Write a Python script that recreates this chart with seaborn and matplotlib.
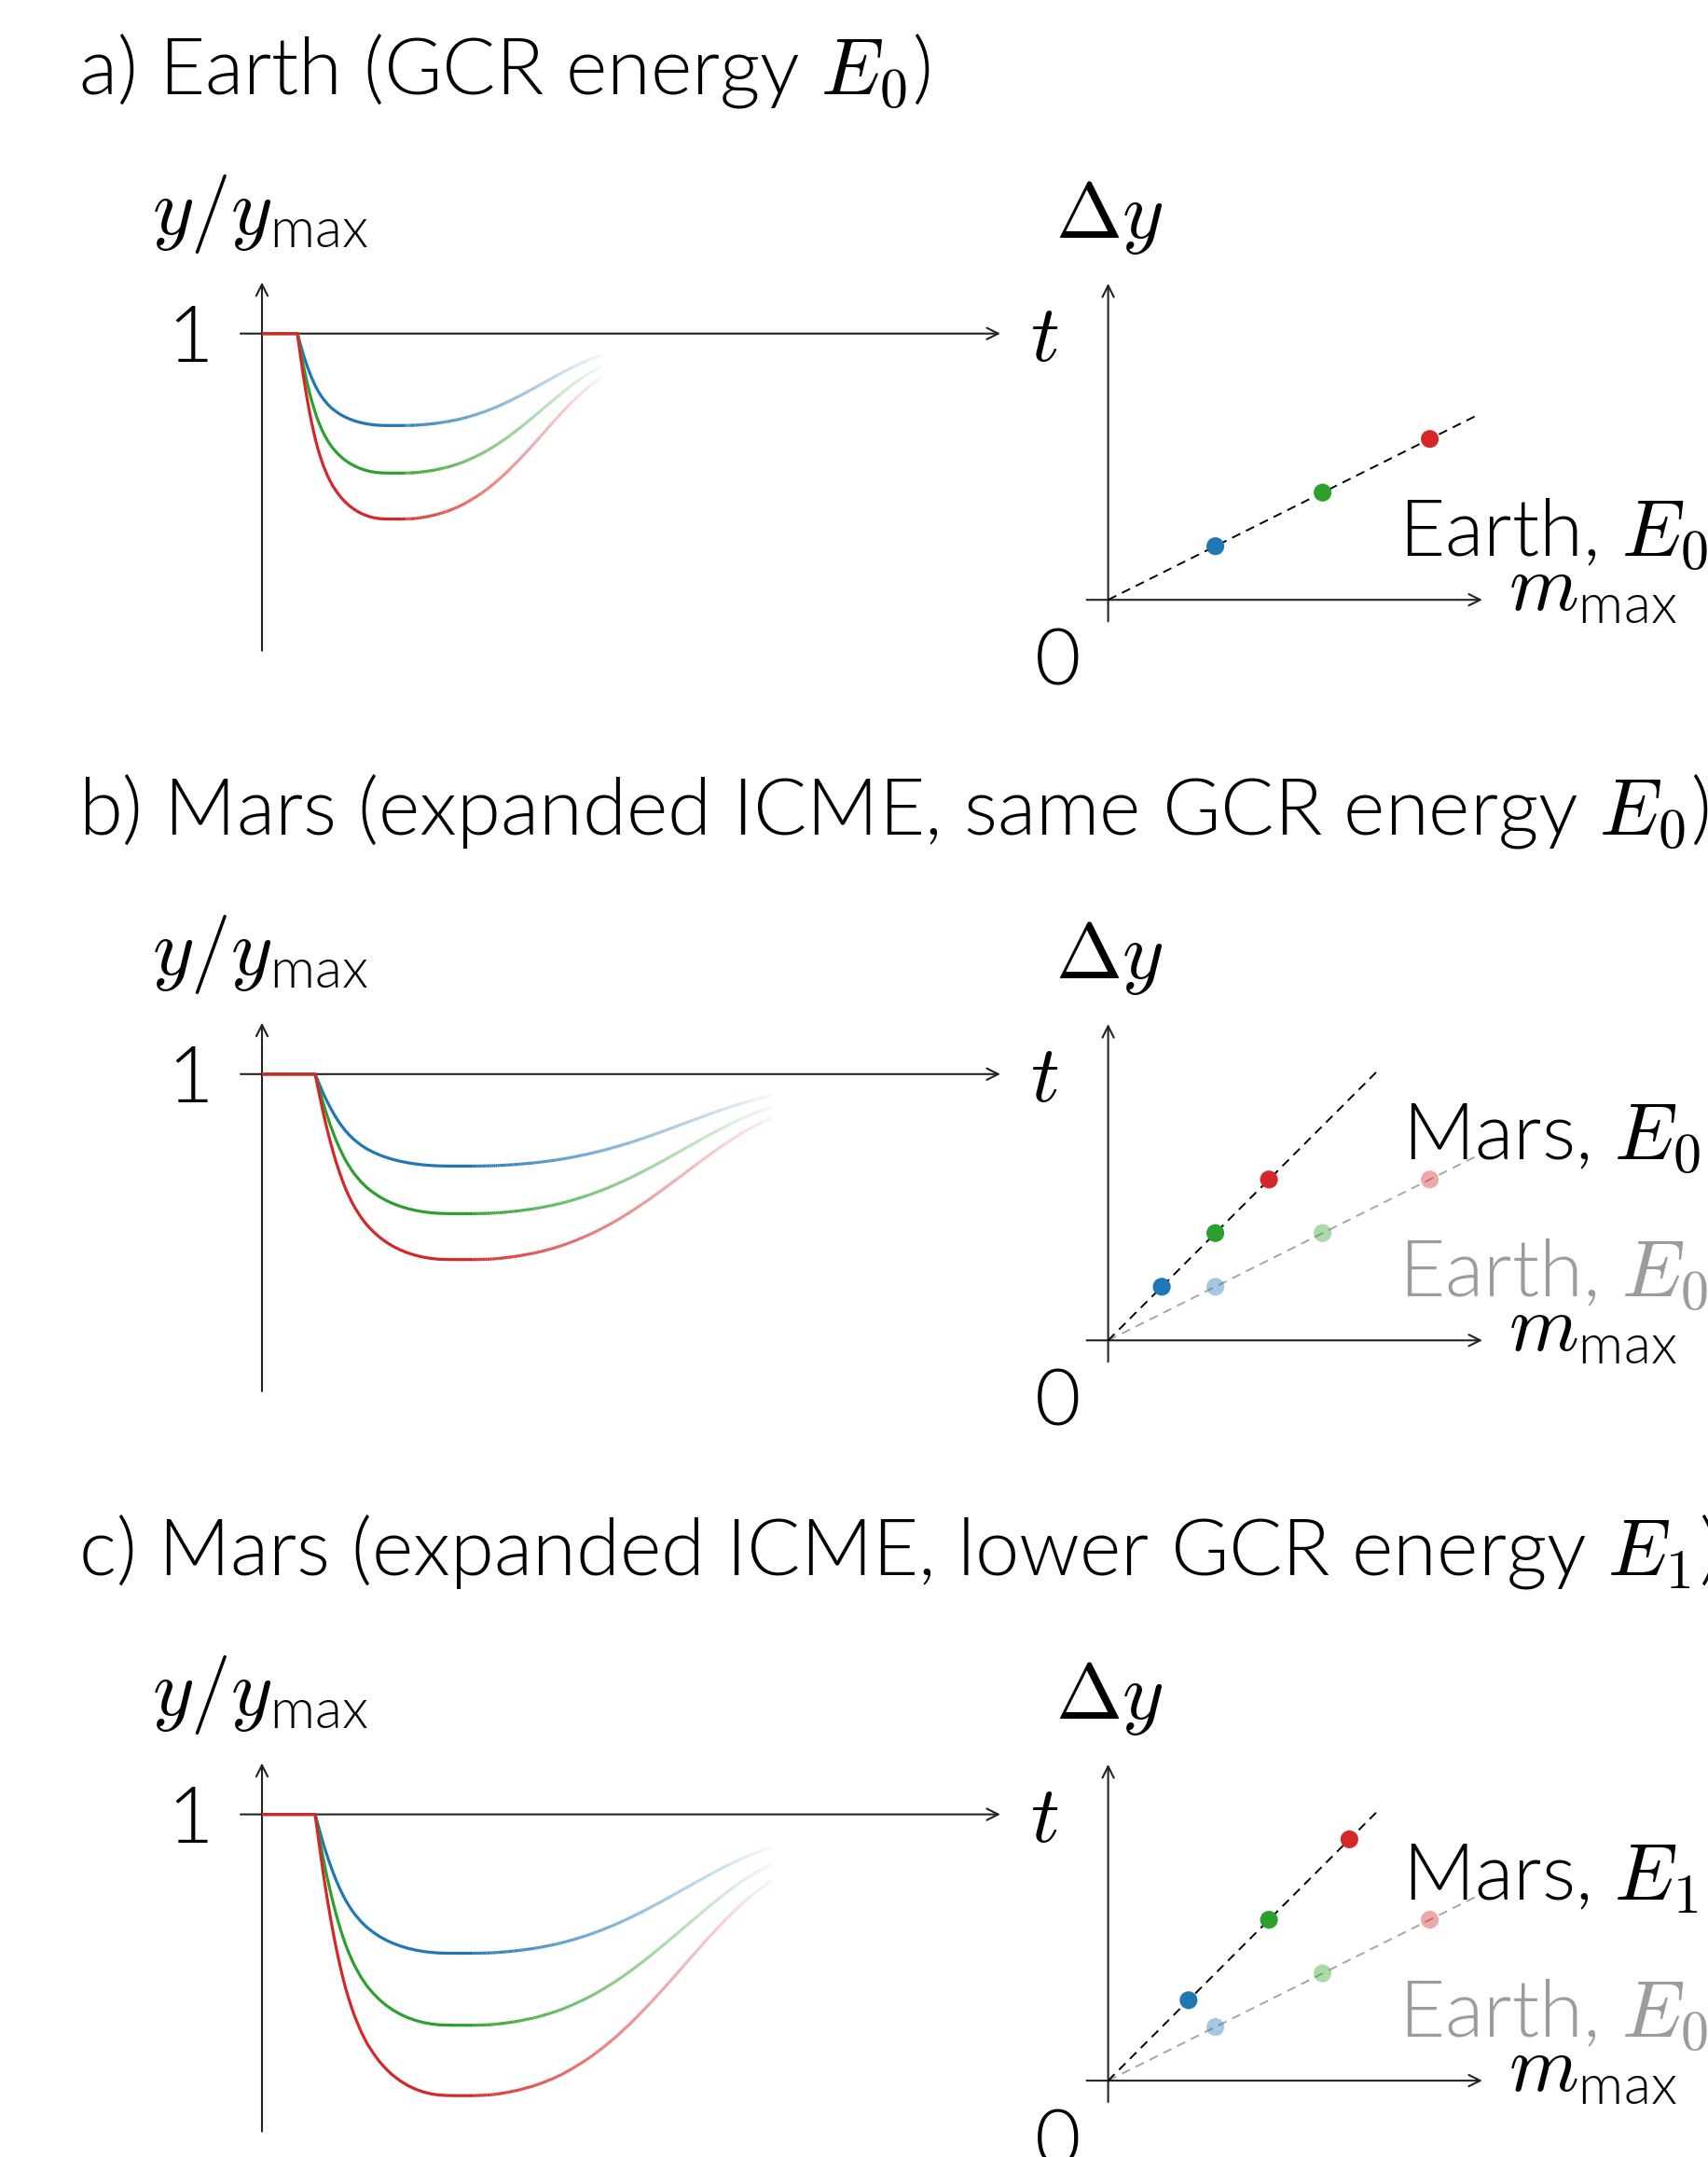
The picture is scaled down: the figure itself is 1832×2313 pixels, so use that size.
import os
import numpy as np
import matplotlib
matplotlib.use("Agg")
import matplotlib.pyplot as plt
import seaborn as sns
from matplotlib.collections import LineCollection
from matplotlib.colors import to_rgba
from matplotlib import font_manager as fm

# ---------------- data ----------------
# normalised Forbush-decrease profile in panel-a time units: first point t=0 is the
# flat part before the onset (t=0.48); SHAPE is the fractional depth of the decrease
PROFILE_T = [0.0, 0.480, 0.500, 0.525, 0.559, 0.590, 0.615, 0.645, 0.671, 0.700,
             0.730, 0.755, 0.783, 0.810, 0.839, 0.895, 0.951, 1.010, 1.063,
             1.120, 1.176, 1.246, 1.316, 1.386, 1.456, 1.530, 1.597, 1.670,
             1.737, 1.820, 1.905, 1.990, 2.073, 2.180, 2.298, 2.440, 2.522,
             2.635, 2.720, 2.810, 2.916, 3.000, 3.083, 3.196, 3.330, 3.477,
             3.620, 3.757, 3.900, 4.038, 4.180, 4.318, 4.460, 4.599]
PROFILE_SHAPE = [0.0, 0.000, 0.058, 0.130, 0.225, 0.302, 0.360, 0.425, 0.477,
                 0.530, 0.580, 0.618, 0.655, 0.688, 0.720, 0.773, 0.816, 0.852,
                 0.880, 0.905, 0.926, 0.947, 0.964, 0.977, 0.987, 0.994, 0.998,
                 0.9995, 1.000, 1.000, 1.000, 0.999, 0.997, 0.991, 0.982, 0.967,
                 0.956, 0.938, 0.922, 0.902, 0.876, 0.853, 0.828, 0.791, 0.742,
                 0.683, 0.622, 0.561, 0.497, 0.436, 0.376, 0.323, 0.275, 0.236]
FADE_START_T = 1.905

# depths of the three curves (blue, green, red) per panel, in units of y/ymax
DEPTH_A = [0.29, 0.44, 0.585]
DEPTH_B = [0.29, 0.44, 0.585]
DEPTH_C = [0.438, 0.665, 0.887]
TIME_STRETCH = [1.0, 1.5, 1.5]

# Delta y vs m_max
EARTH_E0_M = [1.0, 2.0, 3.0]
EARTH_E0_DY = [0.5, 1.0, 1.5]
MARS_E0_M = [0.5, 1.0, 1.5]
MARS_E0_DY = [0.5, 1.0, 1.5]
MARS_E1_M = [0.75, 1.5, 2.25]
MARS_E1_DY = [0.75, 1.5, 2.25]
EARTH_FIT_M = [0.0, 3.45]
EARTH_FIT_DY = [0.0, 1.725]
MARS_FIT_M = [0.0, 2.5]
MARS_FIT_DY = [0.0, 2.5]

COLORS = ["#1f77b4", "#2ca02c", "#d62728"]

TITLES = ["a) Earth (GCR energy $E_0$)",
          "b) Mars (expanded ICME, same GCR energy $E_0$)",
          "c) Mars (expanded ICME, lower GCR energy $E_1$)"]
MAIN_LABELS = ["Earth, $E_0$", "Mars, $E_0$", "Mars, $E_1$"]

# ---------------- fonts: make sure "Lato" weight 300 is the real Lato-Light ----------------
reg_path = fm.findfont(fm.FontProperties(family="Lato", weight="normal"))
light_path = os.path.join(os.path.dirname(reg_path), "Lato-Light.ttf")
if not os.path.exists(light_path):
    cands = [f.fname for f in fm.fontManager.ttflist
             if os.path.basename(f.fname) == "Lato-Light.ttf"]
    light_path = cands[0] if cands else None
TEXT_WEIGHT = "normal"
if light_path is not None:
    fm.fontManager.ttflist = [
        f for f in fm.fontManager.ttflist
        if not (f.name == "Lato" and f.style == "normal"
                and str(f.weight) in ("300", "light") and f.fname != light_path)]
    if not any(f.fname == light_path for f in fm.fontManager.ttflist):
        fm.fontManager.addfont(light_path)
    fm.fontManager._findfont_cached.cache_clear()
    TEXT_WEIGHT = 300

sns.set_theme(style="white")
plt.rcParams["font.family"] = ["Lato", "DejaVu Sans"]
plt.rcParams["text.color"] = "black"
plt.rcParams["mathtext.fontset"] = "custom"
plt.rcParams["mathtext.rm"] = "cmr10"
plt.rcParams["mathtext.it"] = "cmmi10"
plt.rcParams["mathtext.sf"] = "Lato:weight=300" if TEXT_WEIGHT == 300 else "Lato"
plt.rcParams["axes.unicode_minus"] = False

W, H = 1833, 2313
fig = plt.figure(figsize=(W / 100, H / 100), dpi=100)
fig.patch.set_facecolor("white")

FS = 61.5
FS_TITLE = 61.2
AX_COLOR = "#222222"
DASH = (0, (5, 3.5))


def make_ax(px0, px1, py_top, py_bot, ox, oy, sx, sy):
    ax = fig.add_axes([px0 / W, 1 - py_bot / H, (px1 - px0) / W, (py_bot - py_top) / H])
    ax.set_xlim((px0 - ox) / sx, (px1 - ox) / sx)
    ax.set_ylim((oy - py_bot) / sy, (oy - py_top) / sy)
    ax.set_axis_off()
    return ax


def arrow(ax, start, end):
    ax.annotate("", xy=end, xytext=start,
                arrowprops=dict(arrowstyle="->", color=AX_COLOR, lw=1.5,
                                shrinkA=0, shrinkB=0, mutation_scale=22),
                annotation_clip=False, zorder=1)


def ftext(x, y, s, **kw):
    kw.setdefault("fontsize", FS)
    kw.setdefault("fontweight", TEXT_WEIGHT)
    kw.setdefault("va", "baseline")
    fig.text(x / W, 1 - y / H, s, **kw)


def draw_left(ax, depths, stretch):
    sx_unit = 79.2
    arrow(ax, (0, 0), (0, 1.162))
    arrow(ax, (-23 / sx_unit, 1), (792 / sx_unit, 1))
    t = stretch * np.array(PROFILE_T)
    shape = np.array(PROFILE_SHAPE)
    k = int(np.argmin(np.abs(np.array(PROFILE_T) - FADE_START_T)))
    for i, (d, c) in enumerate(zip(depths, COLORS)):
        y = 1 - d * shape
        sns.lineplot(x=t[:k + 1], y=y[:k + 1], color=c, lw=2.3, sort=False,
                     estimator=None, ax=ax, clip_on=False, zorder=3 + i,
                     solid_capstyle="butt", solid_joinstyle="round")
        segs, cols = [], []
        t0, t1 = t[k], t[-1]
        base = np.array(to_rgba(c))
        for j in range(k, len(t) - 1):
            n = 6
            for m in range(n):
                a0 = m / n
                a1 = (m + 1) / n
                xa = t[j] + (t[j + 1] - t[j]) * a0
                xb = t[j] + (t[j + 1] - t[j]) * a1
                ya = y[j] + (y[j + 1] - y[j]) * a0
                yb = y[j] + (y[j + 1] - y[j]) * a1
                tm = 0.5 * (xa + xb)
                alpha = 1 - 0.95 * (tm - t0) / (t1 - t0)
                col = base.copy()
                col[3] = alpha
                segs.append([(xa, ya), (xb, yb)])
                cols.append(col)
        lc = LineCollection(segs, colors=cols, linewidths=2.3, capstyle="butt",
                            zorder=3 + i)
        lc.set_clip_on(False)
        ax.add_collection(lc)


def draw_right(ax, panel):
    arrow(ax, (0, -0.2), (0, 2.95))
    arrow(ax, (-0.2, 0), (3.49, 0))
    if panel == 0:
        sns.lineplot(x=EARTH_FIT_M, y=EARTH_FIT_DY, color="black", lw=1.4,
                     linestyle=DASH, sort=False, estimator=None, ax=ax,
                     clip_on=False, zorder=2)
        sns.scatterplot(x=EARTH_E0_M, y=EARTH_E0_DY, hue=[0, 1, 2],
                        palette=COLORS, s=190, linewidth=0, legend=False, ax=ax,
                        clip_on=False, zorder=4)
    else:
        mm, md = (MARS_E0_M, MARS_E0_DY) if panel == 1 else (MARS_E1_M, MARS_E1_DY)
        sns.lineplot(x=EARTH_FIT_M, y=EARTH_FIT_DY, color="black", alpha=0.35,
                     lw=1.4, linestyle=DASH, sort=False, estimator=None,
                     ax=ax, clip_on=False, zorder=2)
        sns.lineplot(x=MARS_FIT_M, y=MARS_FIT_DY, color="black", lw=1.4,
                     linestyle=DASH, sort=False, estimator=None, ax=ax,
                     clip_on=False, zorder=2)
        sns.scatterplot(x=EARTH_E0_M, y=EARTH_E0_DY, hue=[0, 1, 2],
                        palette=COLORS, s=190, linewidth=0, alpha=0.4,
                        legend=False, ax=ax, clip_on=False, zorder=4)
        sns.scatterplot(x=mm, y=md, hue=[0, 1, 2], palette=COLORS, s=190,
                        linewidth=0, legend=False, ax=ax, clip_on=False, zorder=5)


T_AXIS_Y = [357.7, 1151.8, 1945.6]
RIGHT_DY = 285.5
DEPTHS = [DEPTH_A, DEPTH_B, DEPTH_C]

for p in range(3):
    T = T_AXIS_Y[p]
    R = T + RIGHT_DY
    axl = make_ax(230, 1100, T - 80, T + 360, 281, T + 340, 79.2, 340)
    draw_left(axl, DEPTHS[p], TIME_STRETCH[p])
    axr = make_ax(1150, 1620, R - 360, R + 40, 1188.6, R, 115, 115)
    draw_right(axr, p)

    ftext(84, T - 257, TITLES[p], fontsize=FS_TITLE)
    ftext(279, T - 107, r"$y/y_{\mathsf{max}}$", ha="center")
    ftext(204, T + 30, "1", ha="center")
    ftext(1105, T + 29, r"$t$")
    ftext(1190, T - 103, r"$\Delta y$", ha="center")
    ftext(1135, R + 91, "0", ha="center")
    ftext(1618, R + 10, r"$m_{\mathsf{max}}$")
    if p == 0:
        ftext(1500, R - 47, MAIN_LABELS[0])
    else:
        ftext(1504, R - 194, MAIN_LABELS[p])
        ftext(1500, R - 47, MAIN_LABELS[0], color="#9c9c9c")

fig.savefig("out.png", dpi=100, facecolor="white")
